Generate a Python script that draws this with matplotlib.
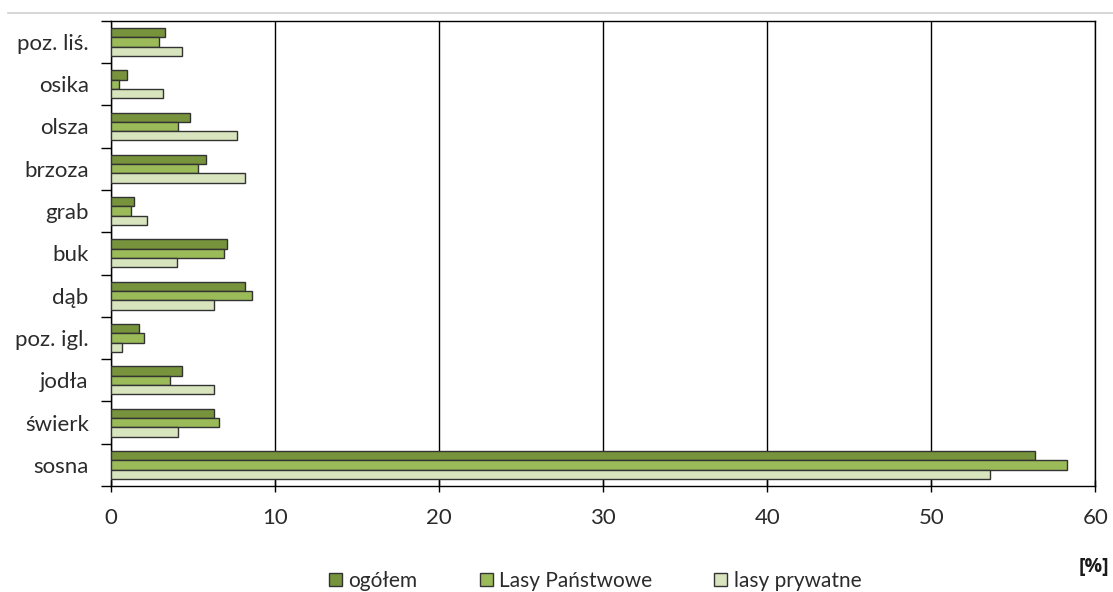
import matplotlib
matplotlib.use("Agg")
import matplotlib.pyplot as plt
import numpy as np
from matplotlib.lines import Line2D

plt.rcParams['font.family'] = ['Lato', 'DejaVu Sans']

categories = ["sosna", "świerk", "jodła", "poz. igl.", "dąb", "buk",
              "grab", "brzoza", "olsza", "osika", "poz. liś."]
ogolem = [56.3, 6.3, 4.3, 1.7, 8.2, 7.1, 1.4, 5.8, 4.8, 1.0, 3.3]
lasy_panstwowe = [58.3, 6.6, 3.6, 2.0, 8.6, 6.9, 1.2, 5.3, 4.1, 0.5, 2.9]
lasy_prywatne = [53.6, 4.1, 6.3, 0.7, 6.3, 4.0, 2.2, 8.2, 7.7, 3.2, 4.3]
series_names = ["ogółem", "Lasy Państwowe", "lasy prywatne"]
colors = ["#77933C", "#9BBB59", "#D7E4BD"]
xticks = [0, 10, 20, 30, 40, 50, 60]

fig = plt.figure(figsize=(11.13, 5.92), dpi=100)
ax = fig.add_axes([0.0997, 0.179, 0.8844, 0.786])

y = np.arange(len(categories))
h = 0.22
for i, (vals, c, name) in enumerate(zip([ogolem, lasy_panstwowe, lasy_prywatne], colors, series_names)):
    ax.barh(y + h - i * h, vals, height=h, color=c, edgecolor="#333333",
            linewidth=1.0, label=name, zorder=3)

ax.set_xlim(0, 60)
ax.set_ylim(-0.5, len(categories) - 0.5)
ax.set_xticks(xticks)
ax.set_xticklabels([str(t) for t in xticks], fontsize=16, color="#2b2b2b")
ax.set_yticks(y)
ax.set_yticklabels(categories, fontsize=16, color="#2b2b2b")
ax.tick_params(axis='y', length=0, pad=16)
ax.set_yticks(np.arange(-0.5, len(categories), 1.0), minor=True)
ax.tick_params(axis='y', which='minor', length=7, width=1, direction='out', color='black')
ax.tick_params(axis='x', length=8, width=1, direction='inout', pad=12, color='black')
ax.xaxis.grid(True, color='black', linewidth=1.0, zorder=0)
for s in ax.spines.values():
    s.set_color('black')
    s.set_linewidth(1.0)

# separator line above the chart
fig.add_artist(Line2D([0.007, 1.0], [1 - 13 / 592, 1 - 13 / 592], color="#D0D0D0", linewidth=1.2))

fig.text(0.997, 1 - 567 / 592, "[%]", ha='right', va='center', fontsize=14,
         fontweight='bold', family=['Open Sans', 'DejaVu Sans'], color="#1a1a1a")

handles = [plt.Rectangle((0, 0), 1, 1, facecolor=c, edgecolor="#333333", linewidth=1.0) for c in colors]
fig.legend(handles, series_names, loc='center', bbox_to_anchor=(595 / 1113, 1 - 581 / 592), ncol=3,
           frameon=False, fontsize=15, handlelength=0.62, handleheight=0.62, handletextpad=0.3,
           columnspacing=3.0, labelcolor="#2b2b2b", borderpad=0, borderaxespad=0)

fig.savefig("out.png", dpi=100)
